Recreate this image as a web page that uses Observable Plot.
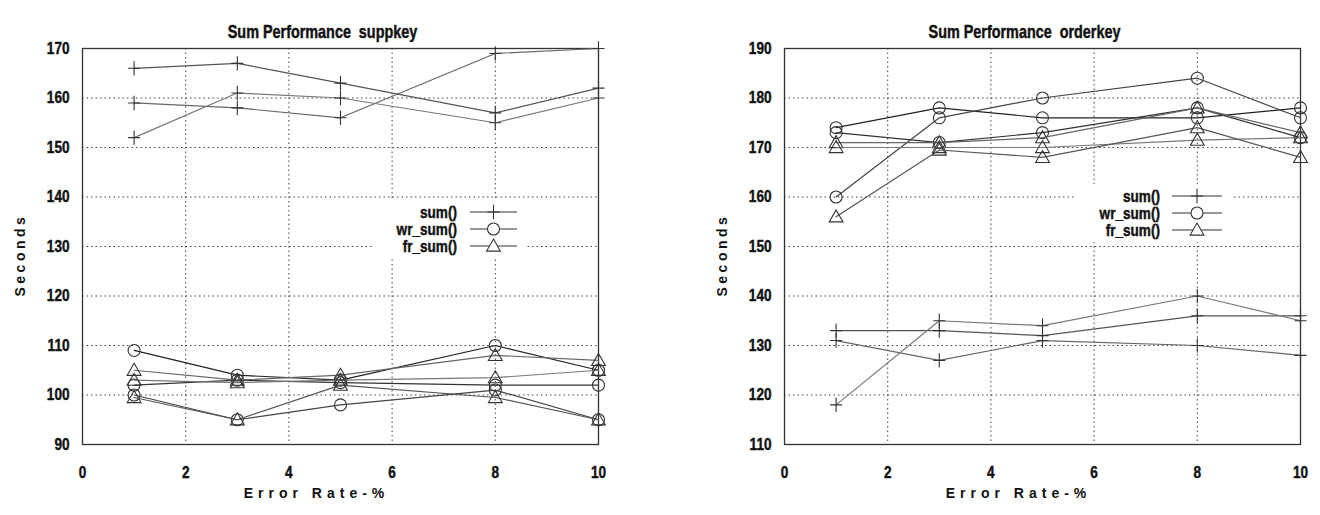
<!DOCTYPE html>
<html>
<head>
<meta charset="utf-8">
<script src="https://cdn.jsdelivr.net/npm/d3@7"></script>
<script src="https://cdn.jsdelivr.net/npm/@observablehq/plot@0.6"></script>
<style>
  html, body { margin: 0; padding: 0; background: #fff; }
  #wrap { position: relative; width: 1320px; height: 515px; display: flex; }
  #legend { position: absolute; left: 0; top: 0; pointer-events: none; }
</style>
</head>
<body>
<div id="wrap"></div>
<script>
// ---- data ----
const errorRates = [1, 3, 5, 8, 10];
const funcNames = ["sum()", "wr_sum()", "fr_sum()"];

// suppkey chart (three runs per function)
const suppkeySum   = [[166, 167, 163, 157, 162], [159, 158, 156, 169, 170], [152, 161, 160, 155, 160]];
const suppkeyWrSum = [[109, 104, 103, 110, 105], [102, 103, 102.5, 102, 102], [100, 95, 98, 101, 95]];
const suppkeyFrSum = [[105, 103, 104, 108, 107], [103, 102.5, 103, 103.5, 105], [99.5, 95, 102, 99.5, 95]];

// orderkey chart
const orderkeySum   = [[133, 133, 132, 136, 136], [131, 127, 131, 130, 128], [118, 135, 134, 140, 135]];
const orderkeyWrSum = [[174, 178, 176, 176, 178], [173, 171, 173, 178, 172], [160, 176, 180, 184, 176]];
const orderkeyFrSum = [[171, 171, 172, 178, 173], [170, 170, 170, 171.5, 172], [156, 169.5, 168, 174, 168]];

const xTicks = [0, 2, 4, 6, 8, 10];
const suppkeyYTicks = [90, 100, 110, 120, 130, 140, 150, 160, 170];
const orderkeyYTicks = [110, 120, 130, 140, 150, 160, 170, 180, 190];

const FONT = '"Liberation Sans", Arial, Helvetica, sans-serif';
const NARROW = 0.8;

// ---- symbols (gnuplot-like) ----
const plusSym = {draw(ctx, size) { const r = Math.sqrt(size / Math.PI); ctx.moveTo(-r, 0); ctx.lineTo(r, 0); ctx.moveTo(0, -r * 1.2); ctx.lineTo(0, r * 1.2); }};
const circSym = {draw(ctx, size) { const r = Math.sqrt(size / Math.PI); ctx.moveTo(r, 0); ctx.arc(0, 0, r, 0, 2 * Math.PI); }};
const triSym  = {draw(ctx, size) { const r = Math.sqrt(size / Math.PI); ctx.moveTo(0, -r * 1.15); ctx.lineTo(r * 1.15, r * 0.85); ctx.lineTo(-r * 1.15, r * 0.85); ctx.closePath(); }};
const symbols = [plusSym, circSym, triSym];
const grays = [["#555", "#666", "#777"], ["#222", "#333", "#444"], ["#666", "#777", "#555"]];

function rows(seriesByFunc) {
  const out = [];
  seriesByFunc.forEach((runs, fi) => runs.forEach((vals, ri) => vals.forEach((v, i) =>
    out.push({x: errorRates[i], y: v, f: fi, run: ri}))));
  return out;
}

function narrowText(svg) {
  svg.querySelectorAll("text").forEach(t => {
    const s = t.textContent;
    if (s === "Seconds" || s === "Error Rate-%") {
      t.style.letterSpacing = s === "Seconds" ? "3.5px" : "5px";
      return;
    }
    let tr = t.getAttribute("transform");
    if (!tr) {
      const x = t.getAttribute("x") || 0, y = t.getAttribute("y") || 0;
      t.removeAttribute("x"); t.removeAttribute("y");
      tr = `translate(${x},${y})`;
    }
    t.setAttribute("transform", tr + ` scale(${NARROW},1)`);
    t.style.stroke = "#111";
    t.style.strokeWidth = "0.45px";
  });
}

function chart({title, yTicks, series, marginLeft, marginRight}) {
  const data = rows(series);
  const marks = [
    Plot.gridX(xTicks.slice(1, -1), {stroke: "#222", strokeOpacity: 0.85, strokeDasharray: "1.5,3"}),
    Plot.gridY(yTicks.slice(1, -1), {stroke: "#222", strokeOpacity: 0.85, strokeDasharray: "1.5,3"}),
    Plot.frame({stroke: "#333", strokeWidth: 1.3}),
    Plot.axisX(xTicks, {tickSize: 0, tickPadding: 21, fontSize: 17, fontWeight: "bold", label: null}),
    Plot.axisY(yTicks, {tickSize: 0, tickPadding: 13, fontSize: 17, fontWeight: "bold", label: null}),
    Plot.text([title], {frameAnchor: "top", dy: -23, dx: -18, fontSize: 18, fontWeight: "bold"}),
    Plot.text(["Error Rate-%"], {frameAnchor: "bottom", dy: 53, dx: -24, fontSize: 14, fontWeight: "bold"}),
    Plot.text(["Seconds"], {frameAnchor: "left", dx: -62, dy: 50, rotate: -90, fontSize: 14, fontWeight: "bold"})
  ];
  for (let f = 0; f < 3; f++) {
    for (let r = 0; r < 3; r++) {
      const d = data.filter(p => p.f === f && p.run === r);
      marks.push(Plot.line(d, {x: "x", y: "y", stroke: grays[f][r], strokeWidth: 1.2}));
      marks.push(Plot.dot(d, {x: "x", y: "y", symbol: symbols[f], r: 6, stroke: "#333", fill: "none", strokeWidth: 1.1}));
    }
  }
  const svg = Plot.plot({
    width: 660, height: 515,
    marginLeft, marginRight, marginTop: 48, marginBottom: 71,
    x: {domain: [0, 10]},
    y: {domain: [yTicks[0], yTicks[yTicks.length - 1]]},
    style: {background: "#fff", color: "#111", fontFamily: FONT},
    marks
  });
  narrowText(svg);
  return svg;
}

const wrap = document.getElementById("wrap");
wrap.append(chart({title: "Sum Performance  suppkey", yTicks: suppkeyYTicks,
  series: [suppkeySum, suppkeyWrSum, suppkeyFrSum], marginLeft: 82, marginRight: 62}));
wrap.append(chart({title: "Sum Performance  orderkey", yTicks: orderkeyYTicks,
  series: [orderkeySum, orderkeyWrSum, orderkeyFrSum], marginLeft: 124, marginRight: 20}));

// ---- legends (overlay) ----
const lg = d3.select(wrap).append("svg").attr("id", "legend").attr("width", 1320).attr("height", 515)
  .style("font-family", FONT);
const legends = [
  {box: [372, 200, 153, 58], textX: 457, lineX: [470, 517], ys: [212, 229, 246]},
  {box: [1076, 184, 157, 58], textX: 1160, lineX: [1172, 1222], ys: [196, 213, 230]}
];
legends.forEach(L => {
  lg.append("rect").attr("x", L.box[0]).attr("y", L.box[1]).attr("width", L.box[2]).attr("height", L.box[3]).attr("fill", "#fff");
  funcNames.forEach((name, i) => {
    const y = L.ys[i];
    lg.append("text").attr("transform", `translate(${L.textX},${y}) scale(${NARROW},1)`).attr("dy", "0.35em")
      .attr("text-anchor", "end").attr("font-size", 17).attr("font-weight", "bold").attr("fill", "#111")
      .attr("stroke", "#111").attr("stroke-width", 0.45).text(name);
    lg.append("line").attr("x1", L.lineX[0]).attr("x2", L.lineX[1]).attr("y1", y).attr("y2", y)
      .attr("stroke", "#333").attr("stroke-width", 1.2);
    lg.append("path").attr("transform", `translate(${(L.lineX[0] + L.lineX[1]) / 2},${y})`)
      .attr("d", d3.symbol().type(symbols[i]).size(Math.PI * 36)())
      .attr("fill", i === 0 ? "none" : "#fff").attr("stroke", "#333").attr("stroke-width", 1.1);
  });
});
</script>
</body>
</html>
